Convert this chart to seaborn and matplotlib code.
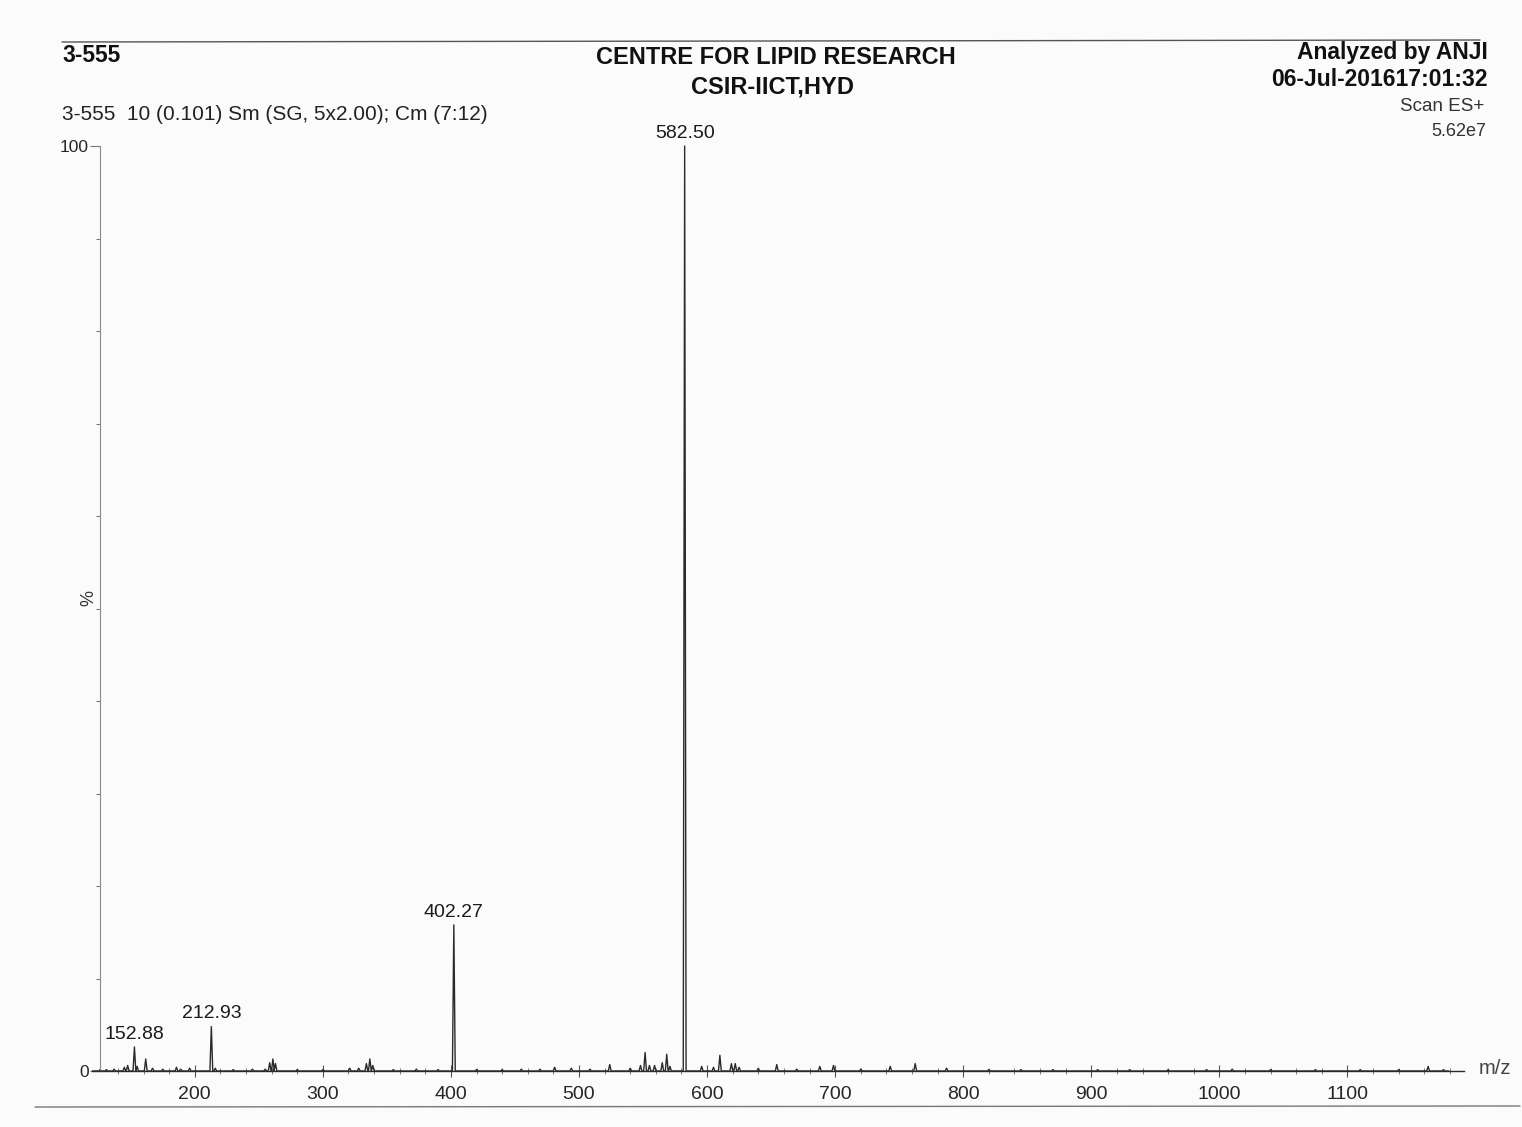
import matplotlib
matplotlib.use("Agg")
import matplotlib.pyplot as plt
from matplotlib.lines import Line2D
from matplotlib.ticker import FixedLocator, MultipleLocator
import pandas as pd
import seaborn as sns

# ---- spectrum data: centroid m/z and relative intensity (%) ----
peak_mz = [126, 131, 137, 145, 147.6, 152.88, 155, 161.7, 167, 175, 185.7, 189,
           196, 212.93, 216, 230, 245, 255, 258.5, 261, 263, 280, 300, 321,
           328, 334, 336.7, 339, 355, 373, 390, 402.27, 420, 440, 455, 469.5,
           481, 494, 508.6, 524, 540, 548, 551.6, 555, 559, 565, 568.5, 571,
           582.50, 595.8, 605, 610, 619, 622, 625, 640, 654.4, 670, 688,
           698.7, 720, 743, 762.5, 787, 820, 845, 870, 905, 930, 960, 990,
           1010, 1040, 1075, 1110, 1140, 1163, 1175]
peak_pct = [0.15, 0.15, 0.2, 0.4, 0.6, 2.6, 0.5, 1.3, 0.3, 0.2, 0.4, 0.2,
            0.3, 4.8, 0.3, 0.15, 0.2, 0.2, 0.9, 1.3, 0.8, 0.15, 0.15, 0.3,
            0.3, 0.8, 1.3, 0.6, 0.15, 0.2, 0.15, 15.8, 0.15, 0.15, 0.2, 0.2,
            0.4, 0.3, 0.2, 0.7, 0.3, 0.6, 2.0, 0.6, 0.6, 0.9, 1.8, 0.5,
            100.0, 0.5, 0.4, 1.7, 0.8, 0.8, 0.4, 0.3, 0.7, 0.2, 0.5,
            0.6, 0.2, 0.5, 0.8, 0.3, 0.15, 0.15, 0.15, 0.15, 0.15, 0.15, 0.15,
            0.2, 0.15, 0.15, 0.15, 0.15, 0.5, 0.15]
labelled_mz = [152.88, 212.93, 402.27, 582.50]

x_major = [200, 300, 400, 500, 600, 700, 800, 900, 1000, 1100]
mz_range = (126, 1191)

sample_id = "3-555"
scan_line = "3-555  10 (0.101) Sm (SG, 5x2.00); Cm (7:12)"
lab_name = "CENTRE FOR LIPID RESEARCH"
lab_site = "CSIR-IICT,HYD"
analyst = "Analyzed by ANJI"
timestamp = "06-Jul-201617:01:32"
scan_mode = "Scan ES+"
base_intensity = "5.62e7"

# ---- build a continuous profile trace (triangular peaks on a flat baseline) ----
half_width = 1.1
trace_x, trace_y = [mz_range[0] - 6], [0.0]
for mz, pct in sorted(zip(peak_mz, peak_pct)):
    trace_x += [mz - half_width, mz, mz + half_width]
    trace_y += [0.0, pct, 0.0]
trace_x.append(mz_range[1] - 12)
trace_y.append(0.0)
trace = pd.DataFrame({"mz": trace_x, "pct": trace_y})

sns.set_theme(style="white")
plt.rcParams["font.family"] = ["Liberation Sans", "DejaVu Sans"]

W, H = 1522, 1127
fig = plt.figure(figsize=(W / 100, H / 100), dpi=100, facecolor="#fbfbfb")


def fx(px):
    return px / W


def fy(py):
    return 1 - py / H


ax_left, ax_right, ax_top, ax_bottom = 100, 1464, 146, 1071
ax = fig.add_axes([fx(ax_left), fy(ax_bottom),
                   fx(ax_right - ax_left), (ax_bottom - ax_top) / H])
ax.set_facecolor("none")

sns.lineplot(data=trace, x="mz", y="pct", sort=False, estimator=None,
             color="#2a2a2a", linewidth=1.0, ax=ax, clip_on=False)

ax.set_xlim(*mz_range)
ax.set_ylim(0, 100)
ax.set_xlabel("")
ax.set_ylabel("")

for side in ("top", "right"):
    ax.spines[side].set_visible(False)
ax.spines["left"].set_color("#8a8a8a")
ax.spines["left"].set_linewidth(0.8)
ax.spines["bottom"].set_color("#2a2a2a")
ax.spines["bottom"].set_linewidth(1.0)
ax.spines["bottom"].set_bounds(mz_range[0] - 6, mz_range[1])

ax.xaxis.set_major_locator(FixedLocator(x_major))
ax.xaxis.set_minor_locator(MultipleLocator(20))
ax.yaxis.set_major_locator(FixedLocator([0, 100]))
ax.yaxis.set_minor_locator(MultipleLocator(10))
ax.set_xticklabels([str(v) for v in x_major])
ax.set_yticklabels(["0", "100"])

ax.tick_params(axis="x", which="major", direction="inout", length=9, width=0.8,
               color="#555555", labelsize=14, pad=6, bottom=True)
ax.tick_params(axis="x", which="minor", direction="inout", length=5, width=0.7,
               color="#777777", bottom=True)
ax.tick_params(axis="y", which="major", direction="out", length=7, width=0.8,
               color="#777777", labelsize=12.5, pad=1, left=True)
ax.tick_params(axis="y", which="minor", direction="out", length=3, width=0.8,
               color="#777777", left=True)

# peak annotations
for mz in labelled_mz:
    pct = peak_pct[peak_mz.index(mz)]
    ax.annotate(f"{mz:.2f}", xy=(mz, pct), xytext=(0, 3),
                textcoords="offset points", ha="center", va="bottom",
                fontsize=14, color="#1a1a1a", annotation_clip=False)

# header block
fig.text(fx(62), fy(55), sample_id, fontsize=16.5, fontweight="bold",
         ha="left", va="center", color="#111111")
fig.text(fx(62), fy(115), scan_line, fontsize=15, ha="left", va="center",
         color="#222222")
fig.text(fx(776), fy(57), lab_name, fontsize=17, fontweight="bold",
         ha="center", va="center", color="#111111")
fig.text(fx(772), fy(87), lab_site, fontsize=17, fontweight="bold",
         ha="center", va="center", color="#111111")
fig.text(fx(1488), fy(53), analyst, fontsize=16.5, fontweight="bold",
         ha="right", va="center", color="#111111")
fig.text(fx(1488), fy(80), timestamp, fontsize=16.5, fontweight="bold",
         ha="right", va="center", color="#111111")
fig.text(fx(1484), fy(107), scan_mode, fontsize=13.5, ha="right",
         va="center", color="#333333")
fig.text(fx(1486), fy(131), base_intensity, fontsize=13, ha="right",
         va="center", color="#333333")

# axis captions
fig.text(fx(89), fy(598), "%", fontsize=13, rotation=90, ha="center",
         va="center", color="#333333")
fig.text(fx(1479), fy(1068), "m/z", fontsize=14.5, ha="left", va="center",
         color="#444444")

# printout frame rules
fig.add_artist(Line2D([fx(62), fx(1480)], [fy(42), fy(40)],
                      color="#555555", linewidth=1.0))
fig.add_artist(Line2D([fx(35), fx(1520)], [fy(1107), fy(1106)],
                      color="#777777", linewidth=1.0))

fig.savefig("out.png", dpi=100, facecolor=fig.get_facecolor())
